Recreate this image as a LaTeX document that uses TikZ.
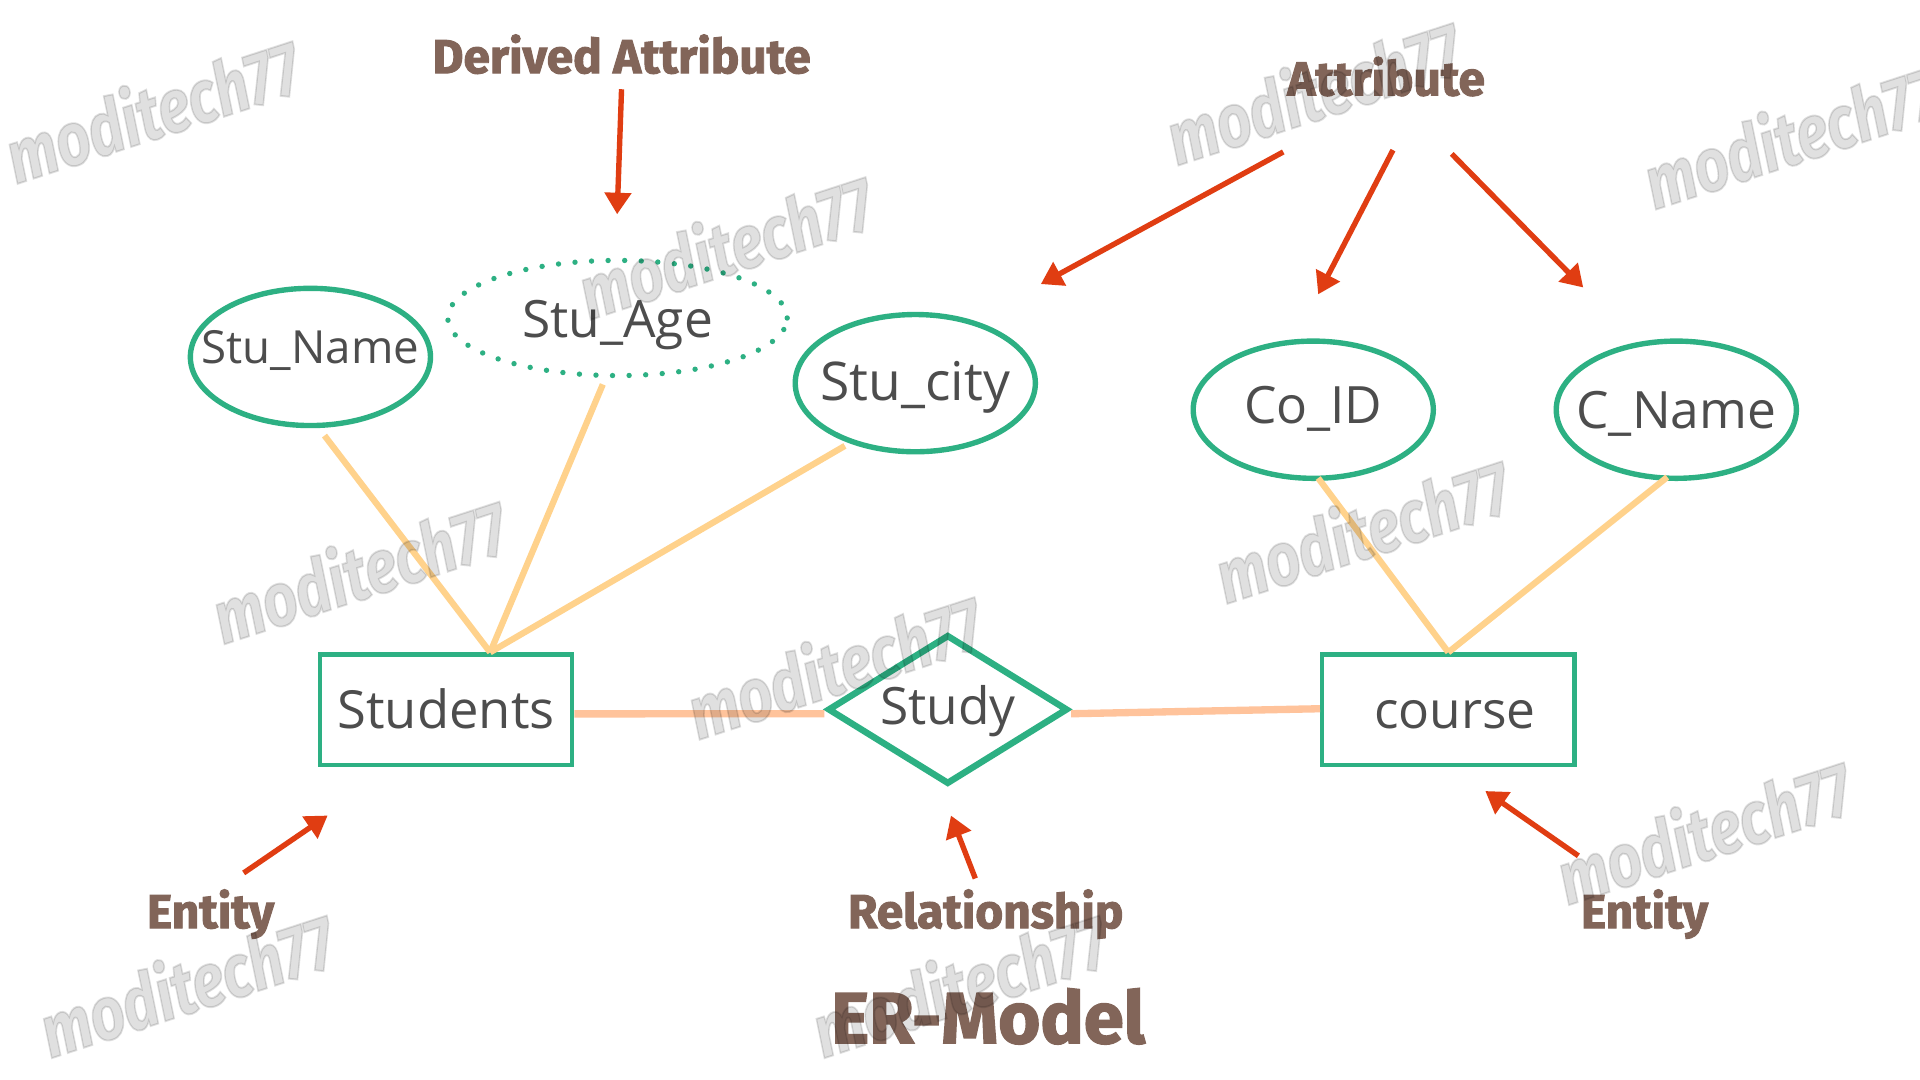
\documentclass[tikz,border=0pt]{standalone}
\usepackage{fontspec}
\setmainfont{Open Sans}
\newfontfamily\lblfont[BoldFeatures={FakeBold=2}]{Fira Sans}
\newfontfamily\wmfont[BoldItalicFeatures={FakeBold=2.5}]{Fira Sans}
\usetikzlibrary{shapes.geometric,arrows.meta}
\definecolor{ergreen}{RGB}{45,176,131}
\definecolor{txtgray}{RGB}{77,77,77}
\definecolor{lblbrown}{RGB}{130,101,89}
\definecolor{arrred}{RGB}{224,61,18}
\definecolor{linkyel}{RGB}{255,210,140}
\definecolor{linkpeach}{RGB}{255,195,155}
\definecolor{wmgray}{RGB}{224,224,224}
\newcommand{\ztext}[2][0pt]{\makebox[0pt]{\raisebox{#1}[0pt][0pt]{#2}}}
\newcommand{\wmtext}{\scalebox{0.8}[1]{moditech77}}
\begin{document}
\begin{tikzpicture}[x=0.01cm,y=-0.01cm,
  attr/.style={ellipse, draw=ergreen, line width=1.25pt, inner sep=0pt,
    minimum width=1.96cm, minimum height=1.12cm, text=txtgray,
    font=\fontsize{11.95}{14}\selectfont},
  derattr/.style={attr, dash pattern=on 0pt off 3.85pt, line cap=round},
  entity/.style={rectangle, draw=ergreen, line width=1pt, inner sep=0pt,
    minimum width=2.06cm, minimum height=0.90cm, text=txtgray,
    font=\fontsize{11.95}{14}\selectfont},
  rel/.style={diamond, draw=ergreen, line width=1.5pt, inner sep=0pt,
    minimum width=1.96cm, minimum height=1.22cm, text=txtgray,
    font=\fontsize{11.95}{14}\selectfont},
  link/.style={draw=linkyel, line width=1.45pt},
  rellink/.style={draw=linkpeach, line width=1.7pt},
  pointer/.style={draw=arrred, line width=1.25pt, -{Triangle[length=5pt,width=6pt]}},
  lbl/.style={text=lblbrown, font=\lblfont\bfseries\fontsize{11.1}{13}\selectfont},
  title/.style={text=lblbrown, font=\lblfont\bfseries\fontsize{16.8}{20}\selectfont},
  wm/.style={text=wmgray, font=\wmfont\bfseries\itshape\fontsize{17.4}{20}\selectfont,
    rotate=18, inner sep=0pt}
]
\useasboundingbox (0,0) rectangle (1568,882);
\fill[white] (0,0) rectangle (1568,882);

% ER nodes
\node[attr, font=\fontsize{10.6}{12}\selectfont] (sname) at (253.5,291.5) {\ztext[-1.48pt]{Stu\_Name}};
\node[derattr, minimum width=2.77cm, minimum height=0.94cm] (sage) at (504.3,259.7) {\ztext[-4.5pt]{Stu\_Age}};
\node[attr, font=\fontsize{12.4}{14}\selectfont] (scity) at (747.5,312.9) {\ztext[-3.95pt]{Stu\_city}};
\node[attr] (coid) at (1072.5,334.6) {\ztext[-3.2pt]{Co\_ID}};
\node[attr] (cname) at (1369,334.6) {\ztext[-4.4pt]{C\_Name}};
\node[entity, font=\fontsize{12.2}{14}\selectfont] (students) at (364.3,579.5) {\ztext[-4.4pt]{Students}};
\node[rel] (study) at (774,579.4) {\ztext[-3.4pt]{Study}};
\node[entity] (course) at (1182.8,579.5) {\ztext[-4.4pt]{\hspace{0.11cm}course}};

% connectors
\coordinate (sj) at ([shift={(36,0)}]students.north);
\draw[link] ([shift={(11.5,6)}]sname.south) -- (sj);
\draw[link] ([shift={(-12,5)}]sage.south) -- (sj);
\draw[link] ([shift={(-57.5,-7)}]scity.south) -- (sj);
\draw[link] ([shift={(4,-2.4)}]coid.south) -- (course.north);
\draw[link] ([shift={(-7.4,-3.2)}]cname.south) -- (course.north);
\draw[rellink] ([shift={(0,3.5)}]students.east) -- ([shift={(0,3.5)}]study.west);
\draw[rellink] ([shift={(0,3.5)}]study.east) -- ([shift={(0,-0.7)}]course.west);

% labels and pointers
\node[lbl] (derived) at (507.6,44.3) {Derived Attribute};
\coordinate (dtip) at (504,175);
\draw[pointer] (derived.south) -- (dtip);

\node[lbl] (attrl) at (1132,62.5) {Attribute};
\coordinate (a1t) at (850,232);
\coordinate (a2t) at (1076.5,240.4);
\coordinate (a3t) at (1293,234.8);
\draw[pointer] ([shift={(-84,33)}]attrl.south) -- (a1t);
\draw[pointer] ([shift={(5.6,31.5)}]attrl.south) -- (a2t);
\draw[pointer] ([shift={(53.6,34.6)}]attrl.south) -- (a3t);

\node[lbl] (ent1) at (172,746.5) {Entity};
\coordinate (e1t) at (267.6,666);
\draw[pointer] ([shift={(27,-1)}]ent1.north) -- (e1t);

\node[lbl] (relat) at (805,746.5) {Relationship};
\coordinate (rt) at (776.6,666);
\draw[pointer] ([shift={(-8.5,3.5)}]relat.north) -- (rt);

\node[lbl] (ent2) at (1343,746.5) {Entity};
\coordinate (e2t) at (1213,646);
\draw[pointer] ([shift={(-54,-15)}]ent2.north) -- (e2t);

\node[title] (ermodel) at (807,830) {ER-Model};

% watermarks (multiplied on top)
\begin{scope}[blend mode=multiply]
\node[wm] (wm1) at (124,89) {\wmtext};
\node[wm] (wm2) at (1072,74) {\wmtext};
\node[wm] (wm3) at (1462,110) {\wmtext};
\node[wm] (wm4) at (592,200) {\wmtext};
\node[wm] (wm5) at (293,465) {\wmtext};
\node[wm] (wm6) at (1112,432) {\wmtext};
\node[wm] (wm7) at (681,543) {\wmtext};
\node[wm] (wm8) at (1391,678) {\wmtext};
\node[wm] (wm9) at (152,803) {\wmtext};
\node[wm] (wm10) at (783,803) {\wmtext};
\end{scope}
\end{tikzpicture}
\end{document}
